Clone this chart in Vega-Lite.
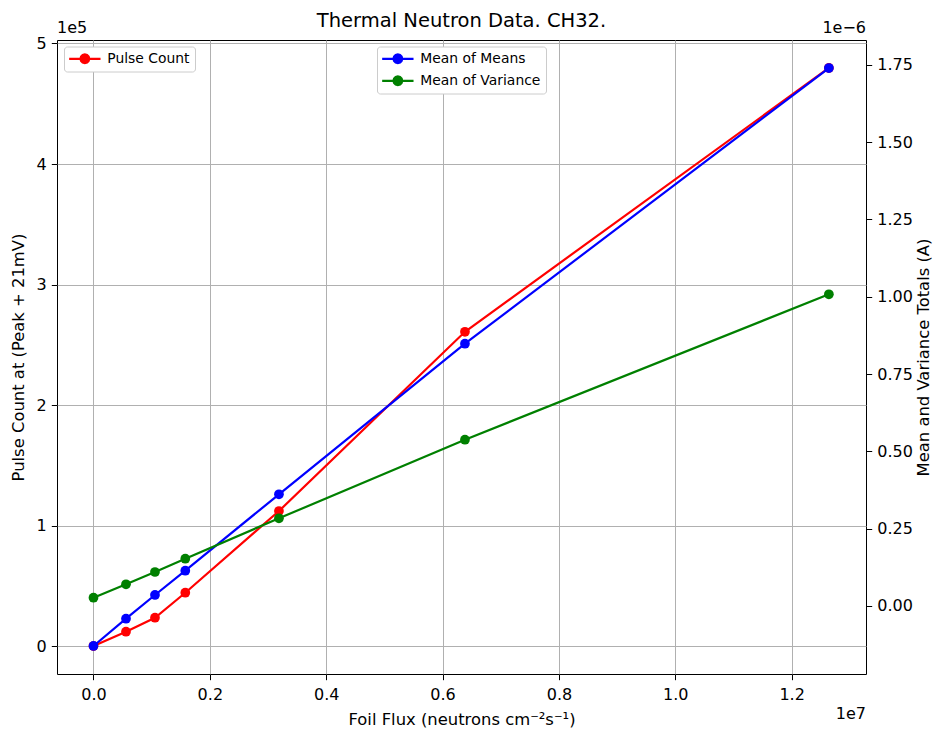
{
  "$schema": "https://vega.github.io/schema/vega-lite/v6.json",
  "width": 809,
  "height": 634,
  "autosize": {"type": "none"},
  "padding": {"left": 57, "top": 40, "right": 68, "bottom": 55},
  "background": "white",
  "title": {"text": "Thermal Neutron Data. CH32.", "fontSize": 19.5, "fontWeight": "normal", "font": "DejaVu Sans", "color": "black", "baseline": "bottom", "offset": 4, "dy": 34, "anchor": "middle"},
  "data": {"values": [
    {"flux": 0, "value": 0, "series": "Pulse Count"},
    {"flux": 559000, "value": 11870, "series": "Pulse Count"},
    {"flux": 1057000, "value": 23490, "series": "Pulse Count"},
    {"flux": 1578000, "value": 44230, "series": "Pulse Count"},
    {"flux": 3188000, "value": 112030, "series": "Pulse Count"},
    {"flux": 6385000, "value": 260800, "series": "Pulse Count"},
    {"flux": 12640000, "value": 479700, "series": "Pulse Count"},
    {"flux": 0, "value": -1.293e-7, "series": "Mean of Means"},
    {"flux": 559000, "value": -4.11e-8, "series": "Mean of Means"},
    {"flux": 1057000, "value": 3.56e-8, "series": "Mean of Means"},
    {"flux": 1578000, "value": 1.141e-7, "series": "Mean of Means"},
    {"flux": 3188000, "value": 3.611e-7, "series": "Mean of Means"},
    {"flux": 6385000, "value": 8.48e-7, "series": "Mean of Means"},
    {"flux": 12640000, "value": 1.7394e-6, "series": "Mean of Means"},
    {"flux": 0, "value": 2.68e-8, "series": "Mean of Variance"},
    {"flux": 559000, "value": 7.02e-8, "series": "Mean of Variance"},
    {"flux": 1057000, "value": 1.099e-7, "series": "Mean of Variance"},
    {"flux": 1578000, "value": 1.529e-7, "series": "Mean of Variance"},
    {"flux": 3188000, "value": 2.835e-7, "series": "Mean of Variance"},
    {"flux": 6385000, "value": 5.377e-7, "series": "Mean of Variance"},
    {"flux": 12640000, "value": 1.0078e-6, "series": "Mean of Variance"}
  ]},
  "layer": [
    {
      "transform": [{"filter": "datum.series === 'Pulse Count'"}],
      "encoding": {
        "x": {
          "field": "flux", "type": "quantitative",
          "scale": {"domain": [-627000, 13278000], "nice": false, "zero": false},
          "axis": {"title": "Foil Flux (neutrons cm⁻²s⁻¹)", "values": [0, 2000000, 4000000, 6000000, 8000000, 10000000, 12000000], "labelExpr": "format(datum.value / 1e7, '.1f')", "grid": true, "titlePadding": 9, "labelPadding": 7}
        },
        "y": {
          "field": "value", "type": "quantitative",
          "scale": {"domain": [-23200, 502900], "nice": false, "zero": false},
          "axis": {"orient": "left", "title": "Pulse Count at (Peak + 21mV)", "values": [0, 100000, 200000, 300000, 400000, 500000], "labelExpr": "format(datum.value / 1e5, 'd')", "grid": true, "titlePadding": 10}
        }
      },
      "layer": [
        {
          "mark": {"type": "point", "filled": true, "size": 95, "opacity": 1},
          "encoding": {"color": {"field": "series", "type": "nominal", "scale": {"domain": ["Pulse Count"], "range": ["red"]},
            "legend": {"orient": "none", "legendX": 7, "legendY": 6.5, "title": null, "symbolType": "M-2.85,-0.2L2.85,-0.2L2.85,0.2L-2.85,0.2ZM1,0L0.866,0.5L0.5,0.866L0,1L-0.5,0.866L-0.866,0.5L-1,0L-0.866,-0.5L-0.5,-0.866L0,-1L0.5,-0.866L0.866,-0.5Z", "symbolSize": 121, "symbolStrokeWidth": 0, "symbolOffset": 8.5, "labelOffset": 15.5, "labelFontSize": 13.9, "labelColor": "black", "padding": 5.4, "strokeColor": "#cccccc", "fillColor": "white", "cornerRadius": 3, "rowPadding": 7}}}
        },
        {
          "mark": {"type": "line", "strokeWidth": 2.2},
          "encoding": {"color": {"field": "series", "type": "nominal", "scale": {"domain": ["Pulse Count"], "range": ["red"]}, "legend": null}}
        }
      ]
    },
    {
      "transform": [{"filter": "datum.series !== 'Pulse Count'"}],
      "encoding": {
        "x": {"field": "flux", "type": "quantitative", "axis": {"title": "Foil Flux (neutrons cm⁻²s⁻¹)", "values": [0, 2000000, 4000000, 6000000, 8000000, 10000000, 12000000], "labelExpr": "format(datum.value / 1e7, '.1f')", "grid": true, "titlePadding": 9, "labelPadding": 7}},
        "y": {
          "field": "value", "type": "quantitative",
          "scale": {"domain": [-2.199e-7, 1.83e-6], "nice": false, "zero": false},
          "axis": {"orient": "right", "title": "Mean and Variance Totals (A)", "values": [0, 2.5e-7, 5e-7, 7.5e-7, 1e-6, 1.25e-6, 1.5e-6, 1.75e-6], "labelExpr": "format(datum.value * 1e6, '.2f')", "grid": false, "titleAngle": 270, "titleBaseline": "top", "titlePadding": 3}
        }
      },
      "layer": [
        {
          "mark": {"type": "point", "filled": true, "size": 95, "opacity": 1},
          "encoding": {"color": {"field": "series", "type": "nominal", "scale": {"domain": ["Mean of Means", "Mean of Variance"], "range": ["blue", "green"]},
            "legend": {"orient": "none", "legendX": 320, "legendY": 6.5, "title": null, "symbolType": "M-2.85,-0.2L2.85,-0.2L2.85,0.2L-2.85,0.2ZM1,0L0.866,0.5L0.5,0.866L0,1L-0.5,0.866L-0.866,0.5L-1,0L-0.866,-0.5L-0.5,-0.866L0,-1L0.5,-0.866L0.866,-0.5Z", "symbolSize": 121, "symbolStrokeWidth": 0, "symbolOffset": 8.5, "labelOffset": 15.5, "labelFontSize": 13.9, "labelColor": "black", "padding": 5.4, "strokeColor": "#cccccc", "fillColor": "white", "cornerRadius": 3, "rowPadding": 7}}}
        },
        {
          "mark": {"type": "line", "strokeWidth": 2.2},
          "encoding": {"color": {"field": "series", "type": "nominal", "scale": {"domain": ["Mean of Means", "Mean of Variance"], "range": ["blue", "green"]}, "legend": null}}
        }
      ]
    },
    {
      "data": {"values": [{}]},
      "encoding": {
        "x": {"datum": 0, "type": "quantitative", "axis": {"title": "Foil Flux (neutrons cm⁻²s⁻¹)", "values": [0, 2000000, 4000000, 6000000, 8000000, 10000000, 12000000], "labelExpr": "format(datum.value / 1e7, '.1f')", "grid": true, "titlePadding": 9, "labelPadding": 7}},
        "y": {"datum": 1, "type": "quantitative", "scale": {"domain": [0, 1], "nice": false, "zero": false}, "axis": null}
      },
      "layer": [
        {
          "mark": {"type": "text", "align": "left", "baseline": "alphabetic", "dy": -7, "fontSize": 16, "color": "black"},
          "encoding": {
            "x": {"datum": -627000, "type": "quantitative", "axis": {"title": "Foil Flux (neutrons cm⁻²s⁻¹)", "values": [0, 2000000, 4000000, 6000000, 8000000, 10000000, 12000000], "labelExpr": "format(datum.value / 1e7, '.1f')", "grid": true, "titlePadding": 9, "labelPadding": 7}},
            "text": {"value": "1e5"}
          }
        },
        {
          "mark": {"type": "text", "align": "right", "baseline": "alphabetic", "dy": -7, "fontSize": 16, "color": "black"},
          "encoding": {
            "x": {"datum": 13278000, "type": "quantitative", "axis": {"title": "Foil Flux (neutrons cm⁻²s⁻¹)", "values": [0, 2000000, 4000000, 6000000, 8000000, 10000000, 12000000], "labelExpr": "format(datum.value / 1e7, '.1f')", "grid": true, "titlePadding": 9, "labelPadding": 7}},
            "text": {"value": "1e−6"}
          }
        },
        {
          "mark": {"type": "text", "align": "right", "baseline": "alphabetic", "dy": 45, "fontSize": 16, "color": "black"},
          "encoding": {
            "x": {"datum": 13278000, "type": "quantitative", "axis": {"title": "Foil Flux (neutrons cm⁻²s⁻¹)", "values": [0, 2000000, 4000000, 6000000, 8000000, 10000000, 12000000], "labelExpr": "format(datum.value / 1e7, '.1f')", "grid": true, "titlePadding": 9, "labelPadding": 7}},
            "y": {"datum": 0, "type": "quantitative", "axis": null},
            "text": {"value": "1e7"}
          }
        }
      ]
    }
  ],
  "resolve": {"scale": {"y": "independent", "color": "independent"}, "legend": {"color": "independent"}},
  "config": {
    "font": "DejaVu Sans",
    "view": {"stroke": "black", "strokeWidth": 1},
    "axis": {
      "domain": false,
      "ticks": true,
      "tickColor": "black",
      "tickWidth": 1,
      "tickSize": 5.7,
      "labelPadding": 5,
      "labelFontSize": 16,
      "labelColor": "black",
      "labelFont": "DejaVu Sans",
      "titleFont": "DejaVu Sans",
      "titleFontSize": 16.4,
      "titleFontWeight": "normal",
      "titleColor": "black",
      "gridColor": "#b0b0b0",
      "gridWidth": 1,
      "gridOpacity": 1,
      "labelFlush": false,
      "labelOverlap": false
    },
    "legend": {"labelFont": "DejaVu Sans"}
  }
}
